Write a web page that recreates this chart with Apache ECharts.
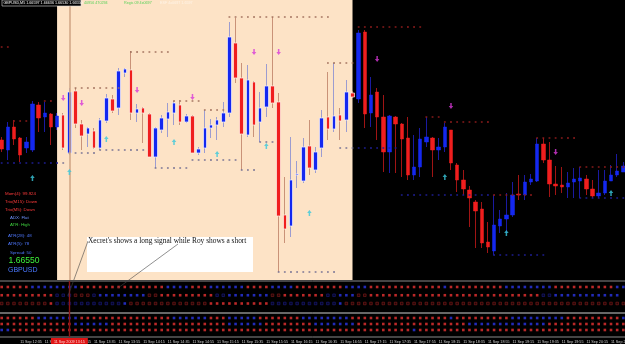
<!DOCTYPE html>
<html><head><meta charset="utf-8">
<script src="https://cdn.jsdelivr.net/npm/echarts@6/dist/echarts.min.js"></script>
<style>html,body{margin:0;padding:0;background:#000}#c{width:625px;height:344px}</style>
</head><body><div id="c"></div>
<script>
// ---- data ----
// M5 bars, 11 Sep 2009, starting 12:20
const categories = [];
for (let i = 0; i < 102; i++) {
  const m = 12 * 60 + 20 + 5 * i;
  categories.push(String(Math.floor(m / 60)).padStart(2, '0') + ':' + String(m % 60).padStart(2, '0'));
}
// candles: [open, close, low, high] (price in points above chart bottom)
const candles = [
[140,131,128,143],[130,153,120,158],[153,141,135,160],[142,125,118,143],[132,138,127,143],
[130,176,128,179],[175,162,148,178],[163,167,148,178],[166,153,135,167],[153,164,150,167],
[165,132,130,167],[127,188,125,192],[189,156,152,192],[156,144,130,160],[146,152,133,153],
[149,132,131,152],[132,160,130,162],[159,182,157,186],[181,169,167,185],[172,209,165,212],
[207,211,203,212],[210,167,160,229],[167,171,158,176],[172,167,137,173],[166,123,123,167],
[123,152,112,153],[150,162,147,165],[161,168,143,177],[167,177,155,179],[175,158,155,180],
[158,164,157,166],[164,127,127,165],[127,131,125,133],[132,152,127,170],[152,155,142,161],
[155,160,140,163],[158,167,153,178],[167,243,163,258],[237,202,197,262],[202,146,110,217],
[145,200,143,215],[198,155,143,199],[158,172,138,188],[173,194,163,216],[194,177,172,263],
[178,64,8,187],[65,51,37,103],[54,100,43,143],[105,106,92,119],[99,133,97,142],
[134,112,105,160],[110,128,107,133],[132,162,123,170],[163,151,140,208],[151,164,148,217],
[165,159,140,172],[160,188,148,200],[187,183,182,189],[181,247,177,250],[248,166,152,250],
[167,185,153,203],[188,163,140,192],[163,128,108,185],[128,164,107,165],[163,156,107,164],
[156,141,103,157],[142,105,100,163],[105,113,100,145],[113,141,103,152],[138,143,133,163],
[142,130,103,143],[130,133,120,142],[133,153,128,157],[150,117,110,150],[115,100,88,117],
[100,91,85,110],[90,82,53,94],[78,69,32,80],[71,37,32,78],[38,33,27,58],
[29,55,25,85],[54,61,47,70],[61,65,47,87],[65,85,63,98],[86,85,80,105],
[85,98,80,105],[98,101,95,106],[99,136,98,142],[136,120,117,142],[120,96,83,138],
[96,94,85,114],[95,93,87,113],[93,97,82,108],[98,101,82,112],[99,102,82,113],
[101,91,85,105],[91,84,82,100],[84,87,82,110],[87,99,85,110],[99,105,99,115],
[105,109,103,126],[108,114,108,118]
];
// support / resistance dotted levels: [fromBar, toBar, level, kind]
const levels = [
[0,1,233,'R'],[2,4,159,'R'],[7,8,179,'R'],[12,19,192,'R'],[21,27,228,'R'],[28,32,179,'R'],
[33,36,170,'R'],[37,53,263,'R'],[53,57,217,'R'],[58,68,253,'R'],[69,71,163,'R'],[72,79,158,'R'],
[80,86,85,'R'],[87,93,142,'R'],[94,101,113,'R'],
[0,10,117,'S'],[11,15,127,'S'],[16,23,130,'S'],[25,30,112,'S'],[31,38,120,'S'],[39,41,110,'S'],
[42,44,138,'S'],[45,54,8,'S'],[55,64,132,'S'],[65,79,85,'S'],[80,88,25,'S'],[94,101,82,'S']
];
// signal arrows: [bar, level]
const sellArrows = [[10,182],[13,177],[22,190],[31,183],[41,228],[45,228],[61,221],[73,174],[90,128]];
const buyArrows = [[5,102],[11,108],[17,141],[28,138],[35,126],[43,134],[50,67],[72,103],[82,47],[99,87]];
// indicator dot rows (R/B bright, r/b dim)
const upperRows = [
'RRRRRBBBBBBBBRRRRRRRRRRRRRRBBBBRRRBBBBBBRRRRBBBBRRRRRRRRBBBBRRRRRRRRRRRRBRRRRRRRRRBBBBBBBBRRRRRRRRRRBB',
'RRRRRRRRRbbbrrrbBBBBBBBBrrRRRRRRRRRbbBBBBBBBrrRRRRRRRbbBBBrrRRRRRRRRRRRRRRRRRRRRRRRRRRRRbbBBBBBBBBBBB',
'rrrrrrrrRbbbbbbbbbbbBrrrrrrrrrrrrrRRRRRRRRRRbbbbbbbbbbbBrrrrrrrrrrrrrrrrrrrrrrrrrrrrrrrrrrrrrrrrrrrrrr'
];
const lowerRows = [
'RRRRRRBBBBBBBRRRRRRRRRRRRRRRBBBBBBRRRBBBBBRRRRRRRBBBBBBBBRRRRRRRRRRRRRRRRBRRRRRRRRRBBBBBBBBBRRRRRRRRRB',
'RRRRRRRRRRRRBBBBBBRRRRRRRRRRRRRRRRRRRBBBBBBRRRRRRRRBBBBBBBRRRRRRRRRRRRRRRRRRBBBBBBBBBBBBBRRRRRRRRRRRRR',
'BBRRRRRRRRRRRRRRRRRRRRRRRRRRRRRRRRRRRRRRRRRRRRRRRRRRRRRRRRRRRRRRRRRBRRRRRRRRRRRRRRRRRRRRRRRRRRRRRRRRRR'
];
const tickLabels = ['11 Sep 2009','11 Sep 12:35','11 Sep 12:55','11 Sep 13:15','11 Sep 13:35','11 Sep 13:55',
'11 Sep 14:15','11 Sep 14:35','11 Sep 14:55','11 Sep 15:15','11 Sep 15:35','11 Sep 15:55','11 Sep 16:15',
'11 Sep 16:35','11 Sep 16:55','11 Sep 17:15','11 Sep 17:35','11 Sep 17:55','11 Sep 18:15','11 Sep 18:35',
'11 Sep 18:55','11 Sep 19:15','11 Sep 19:35','11 Sep 19:55','11 Sep 20:15','11 Sep 20:35'];
const markerBar = 11;          // vertical line bar
const markerText = '11 Sep 2009 13:15';
const shadedFrom = 9, shadedTo = 57;
const infoLines = [
  ['Mom(4): 99.924', '#ff3a3a'], ['Trix(M15): Down', '#ff3a3a'], ['Trix(M5): Down', '#ff3a3a'],
  ['ADX: Flat', '#6f93ff'], ['ATR: High', '#3fd23f'], ['ATR(28): 48', '#4f78ff'],
  ['ATR(5): 78', '#4f78ff'], ['Spread: 50', '#4f78ff']
];
const priceText = '1.66550', symbolText = 'GBPUSD';

// ---- build ----
const S = 6.155, L = -1.4, W = 102 * S;
const inShade = i => i > shadedFrom && i <= shadedTo;
const RED = '#f01e1e', BLUE = '#1428f0';
const wickData = candles.map((c, i) => {
  const bull = c[1] > c[0];
  const w = inShade(i) ? (bull ? '#9c9cd0' : '#c99278') : (bull ? '#1a1aa0' : '#a01414');
  return { value: c, itemStyle: { color: w, color0: w, borderColor: w, borderColor0: w, borderWidth: 1 } };
});
const bodyData = candles.map((c, i) => {
  const sh = inShade(i);
  const bull = c[1] > c[0];
  const fill = bull ? BLUE : RED;
  const edge = sh ? (bull ? '#f4f0ff' : '#fff0ea') : fill;
  return { value: [c[0], c[1], Math.min(c[0], c[1]), Math.max(c[0], c[1])],
    itemStyle: { color: fill, color0: fill, borderColor: edge, borderColor0: edge, borderWidth: sh ? 0.7 : 0.5 } };
});
const levelDots = [];
levels.forEach(([a, b, v, k]) => {
  for (let i = a; i <= b; i++) {
    const col = inShade(i) ? (k === 'R' ? '#a0705c' : '#747092') : (k === 'R' ? '#8e1c1c' : '#1e1e96');
    levelDots.push({ value: [i, v], itemStyle: { color: col } });
  }
});
function rowDots(rows) {
  const out = [];
  rows.forEach((str, r) => {
    for (let i = 0; i < Math.min(str.length, categories.length); i++) {
      const ch = str[i];
      let st;
      if (ch === 'R') st = { color: '#e83232' };
      else if (ch === 'B') st = { color: '#2a36e6' };
      else if (ch === 'r') st = { color: '#2a0808', borderColor: '#8c1e1e', borderWidth: 0.7 };
      else st = { color: '#08082a', borderColor: '#1e1e8c', borderWidth: 0.7 };
      out.push({ value: [i, 2 - r], itemStyle: st });
    }
  });
  return out;
}
const tickMap = {};
tickLabels.forEach((t, k) => { tickMap[k === 0 ? 0 : 4 * k - 1] = t; });

const downArrow = 'path://M2,0 L4,0 L4,4 L6,4 L3,8 L0,4 L2,4 Z';
const upArrow = 'path://M3,0 L6,4 L4,4 L4,8 L2,8 L2,4 L0,4 Z';

const info = [];
infoLines.forEach(([t, c], k) => {
  const ys = [194, 201.7, 209.3, 217.3, 225, 236, 244, 252.7];
  const xs = [5, 5, 5, 10, 10, 8, 8, 10];
  info.push({ type: 'text', x: xs[k], y: ys[k], style: { text: t, fill: c, font: '4.4px Arial', verticalAlign: 'middle' } });
});
info.push({ type: 'text', x: 8.5, y: 261, style: { text: priceText, fill: '#3cf03c', font: '8.6px Arial', verticalAlign: 'middle' } });
info.push({ type: 'text', x: 8, y: 269.6, style: { text: symbolText, fill: '#4a78ff', font: '7px Arial', verticalAlign: 'middle' } });

const chart = echarts.init(document.getElementById('c'), null, { width: 625, height: 344 });
chart.setOption({
  backgroundColor: '#000',
  animation: false,
  grid: [
    { left: L, top: 0, width: W, height: 280, outerBoundsMode: 'none' },
    { left: L, top: 281, width: W, height: 32, show: true, borderColor: '#8a8a8a', borderWidth: 1, outerBoundsMode: 'none' },
    { left: L, top: 313, width: W, height: 24, show: true, borderColor: '#8a8a8a', borderWidth: 1, outerBoundsMode: 'none' }
  ],
  xAxis: [
    { type: 'category', gridIndex: 0, data: categories, show: false },
    { type: 'category', gridIndex: 1, data: categories, show: false },
    { type: 'category', gridIndex: 2, data: categories, axisLine: { show: false }, axisTick: { show: false },
      axisLabel: { interval: (i) => tickMap[i] !== undefined, formatter: (v, i) => tickMap[i] || '',
        align: 'left', fontSize: 3.7, color: '#d0d0d0', margin: 2.5, fontFamily: 'Arial' } }
  ],
  yAxis: [
    { type: 'value', gridIndex: 0, min: 0, max: 280, show: false },
    { type: 'value', gridIndex: 1, min: -1.152, max: 2.727, show: false },
    { type: 'value', gridIndex: 2, min: -1.1667, max: 2.8333, show: false }
  ],
  series: [
    { type: 'scatter', xAxisIndex: 0, yAxisIndex: 0, data: [], z: 0, silent: true,
      markArea: { silent: true, itemStyle: { color: '#fde3c6' },
        data: [[{ xAxis: categories[shadedFrom] }, { xAxis: categories[shadedTo] }]] },
      markLine: { silent: true, symbol: 'none', label: { show: false },
        lineStyle: { color: '#d2a888', width: 1.6, type: 'solid' }, data: [{ xAxis: categories[markerBar] }] } },
    { type: 'candlestick', xAxisIndex: 0, yAxisIndex: 0, barWidth: 1, data: wickData, z: 2, silent: true },
    { type: 'candlestick', xAxisIndex: 0, yAxisIndex: 0, barWidth: 4, data: bodyData, z: 3, silent: true },
    { type: 'scatter', xAxisIndex: 0, yAxisIndex: 0, symbol: 'rect', symbolSize: 1.8, data: levelDots, z: 4, silent: true },
    { type: 'scatter', xAxisIndex: 0, yAxisIndex: 0, symbol: downArrow, symbolSize: [4.5, 6], data: sellArrows,
      itemStyle: { color: '#d838d8' }, z: 5, silent: true },
    { type: 'scatter', xAxisIndex: 0, yAxisIndex: 0, symbol: upArrow, symbolSize: [4.5, 6], data: buyArrows,
      itemStyle: { color: '#38c8dc' }, z: 5, silent: true },
    { type: 'scatter', xAxisIndex: 1, yAxisIndex: 1, symbol: 'rect', symbolSize: 2.6, data: rowDots(upperRows), z: 3, silent: true,
      markLine: { silent: true, symbol: 'none', label: { show: false },
        lineStyle: { color: '#8c1414', width: 1.4, type: 'solid' }, data: [{ xAxis: categories[markerBar] }] } },
    { type: 'scatter', xAxisIndex: 2, yAxisIndex: 2, symbol: 'rect', symbolSize: 2.6, data: rowDots(lowerRows), z: 3, silent: true,
      markLine: { silent: true, symbol: 'none',
        label: { show: true, position: 'start', formatter: markerText, backgroundColor: '#e01414', color: '#ffd0d0',
          fontSize: 3.7, fontFamily: 'Arial', padding: [1.5, 3], distance: 1 },
        lineStyle: { color: '#8c1414', width: 1.4, type: 'solid' }, data: [{ xAxis: categories[markerBar] }] } }
  ],
  graphic: [
    { type: 'rect', shape: { x: 2, y: 0, width: 79, height: 6 }, style: { fill: '#000', stroke: '#dcdcdc', lineWidth: 0.6 }, z: 10 },
    { type: 'text', x: 3.5, y: 3, style: { text: 'GBPUSD,M5 1.66597 1.66636 1.66530 1.66550', fill: '#ffffff', font: '3.7px Arial', verticalAlign: 'middle' }, z: 11 },
    { type: 'text', x: 84, y: 3, style: { text: '40956 470294', fill: '#5ad25a', font: '3.7px Arial', verticalAlign: 'middle' }, z: 11 },
    { type: 'text', x: 124, y: 3, style: { text: 'Regis 09 4x0697', fill: '#5ad25a', font: '3.7px Arial', verticalAlign: 'middle' }, z: 11 },
    { type: 'text', x: 160, y: 3, style: { text: 'ESF 4x0697 1.6597', fill: '#fff4e8', font: '3.7px Arial', verticalAlign: 'middle' }, z: 11 },
    ...info.map(o => Object.assign(o, { z: 11 })),
    { type: 'rect', shape: { x: 87, y: 237, width: 166, height: 35 }, style: { fill: '#ffffff' }, z: 10 },
    { type: 'text', x: 88, y: 237.5, style: { text: "Xecret's shows a long signal while Roy shows a short", fill: '#111',
      font: '7.4px "Liberation Serif"' }, z: 11 },
    { type: 'line', shape: { x1: 88, y1: 241, x2: 68, y2: 296 }, style: { stroke: '#444', lineWidth: 0.6 }, z: 11 },
    { type: 'line', shape: { x1: 178, y1: 244, x2: 118, y2: 288 }, style: { stroke: '#444', lineWidth: 0.6 }, z: 11 }
  ]
});
</script></body></html>
